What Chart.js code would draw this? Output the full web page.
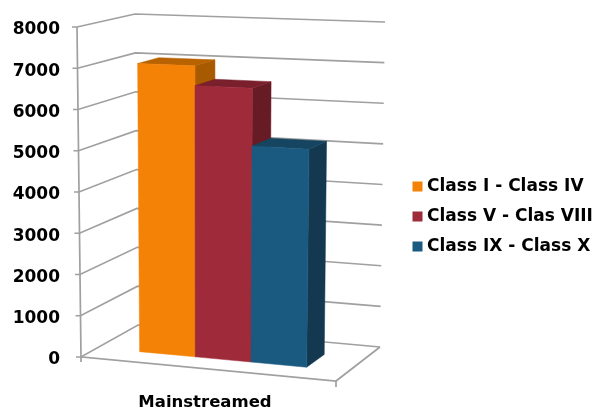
<!DOCTYPE html>
<html>
<head>
<meta charset="utf-8">
<style>
html,body{margin:0;padding:0;background:#fff;}
canvas{display:block;}
</style>
<script src="https://cdn.jsdelivr.net/npm/chart.js@4"></script>
</head>
<body>
<canvas id="chart__bars" width="601" height="409"></canvas>
<script>
// DATA
const categories = ['Mainstreamed'];
const seriesNames = ['Class I - Class IV', 'Class V - Clas VIII', 'Class IX - Class X'];
const classOne = [7050];
const classFive = [6570];
const classNine = [5180];
const seriesValues = [classOne, classFive, classNine];
const yTicks = [0, 1000, 2000, 3000, 4000, 5000, 6000, 7000, 8000];

// front, top and side colours of each series
const frontColors = ['#f38207', '#9e2a3a', '#1b5a80'];
const topColors = ['#b86200', '#7a1f2c', '#154560'];
const sideColors = ['#a85a00', '#671b25', '#133850'];

const gridColor = '#a0a0a0';
const fontName = '"DejaVu Sans", Verdana, sans-serif';

// 3D box of the plot, [x, y] of each corner (f = front, b = back, l/r, t = top, o = bottom)
const box = {
    flo: [81, 357], fro: [336, 381], blo: [138, 325], bro: [380, 347],
    flt: [77, 27], frt: [341, 36], blt: [135, 14], brt: [385, 22]
};
const barDepthFront = 0.29;
const barDepthBack = 0.67;

function mix(a, b, k) {
    return [a[0] + (b[0] - a[0]) * k, a[1] + (b[1] - a[1]) * k];
}
// t along the width, f up the value axis, d into the depth, all 0..1
function project(t, f, d) {
    const front = mix(mix(box.flo, box.fro, t), mix(box.flt, box.frt, t), f);
    const back = mix(mix(box.blo, box.bro, t), mix(box.blt, box.brt, t), f);
    return mix(front, back, d);
}
function line(ctx, pts, color, width) {
    ctx.beginPath();
    pts.forEach((p, i) => i ? ctx.lineTo(p[0], p[1]) : ctx.moveTo(p[0], p[1]));
    ctx.strokeStyle = color;
    ctx.lineWidth = width;
    ctx.stroke();
}
function face(ctx, pts, color) {
    ctx.beginPath();
    pts.forEach((p, i) => i ? ctx.lineTo(p[0], p[1]) : ctx.moveTo(p[0], p[1]));
    ctx.closePath();
    ctx.fillStyle = color;
    ctx.fill();
    ctx.strokeStyle = color;
    ctx.lineWidth = 0.5;
    ctx.stroke();
}

const bars3d = {
    id: 'bars3d',
    beforeInit(chart) {
        // room for the 3D box between the plot and the legend
        const fit = chart.legend.fit;
        chart.legend.fit = function () {
            fit.call(chart.legend);
            this.width = 265;
        };
    },
    afterLayout(chart) {
        chart.legend.left = 403.5;
        chart.legend.top -= 3;
        chart.legend.bottom -= 3;
    },
    beforeDatasetsDraw(chart) {
        const ctx = chart.ctx;
        const area = chart.chartArea;
        const yScale = chart.scales.y;
        const frac = (v) => (area.bottom - yScale.getPixelForValue(v)) / (area.bottom - area.top);

        // walls and floor
        ctx.save();
        yTicks.forEach((v) => {
            const f = frac(v);
            const a = project(0, f, 0);
            line(ctx, [[a[0] - 5, a[1]], a, project(0, f, 1), project(1, f, 1)], gridColor, 1.7);
        });
        line(ctx, [project(0, 1, 0), project(0, 0, 0)], gridColor, 1.7);
        const fl = project(0, 0, 0);
        const fr = project(1, 0, 0);
        line(ctx, [[fl[0], fl[1] + 5], fl, fr, project(1, 0, 1)], gridColor, 1.7);
        line(ctx, [fr, [fr[0], fr[1] + 6]], gridColor, 1.7);

        // bars, left to right so that each one covers the side of the last
        chart.data.datasets.forEach((ds, i) => {
            chart.getDatasetMeta(i).data.forEach((bar, j) => {
                const t0 = (bar.x - bar.width / 2 - area.left) / area.width;
                const t1 = (bar.x + bar.width / 2 - area.left) / area.width;
                const f = frac(ds.data[j]);
                const d0 = barDepthFront;
                const d1 = barDepthBack;
                face(ctx, [project(t1, 0, d0), project(t1, 0, d1), project(t1, f, d1), project(t1, f, d0)], sideColors[i]);
                face(ctx, [project(t0, f, d0), project(t0, f, d1), project(t1, f, d1), project(t1, f, d0)], topColors[i]);
                face(ctx, [project(t0, 0, d0), project(t1, 0, d0), project(t1, f, d0), project(t0, f, d0)], frontColors[i]);
            });
        });
        ctx.restore();
        return false;
    }
};

const barChart = new Chart(document.getElementById('chart__bars').getContext('2d'), {
    type: 'bar',
    data: {
        labels: categories,
        datasets: seriesNames.map((name, i) => ({
            label: name,
            data: seriesValues[i],
            backgroundColor: frontColors[i],
            borderColor: frontColors[i],
            borderWidth: 8,
            categoryPercentage: 0.665,
            barPercentage: 1
        }))
    },
    options: {
        responsive: false,
        animation: false,
        layout: { padding: { top: 30, left: 0, right: 0, bottom: 0 } },
        plugins: {
            tooltip: { enabled: false },
            legend: {
                position: 'right',
                labels: {
                    boxWidth: 2,
                    boxHeight: 2,
                    padding: 13,
                    color: '#000',
                    font: { family: fontName, size: 17, weight: 'bold' }
                }
            }
        },
        scales: {
            x: {
                grid: { display: false },
                border: { display: false },
                afterFit(scale) { scale.height = 49; },
                ticks: {
                    padding: 25,
                    labelOffset: -3.5,
                    maxRotation: 0,
                    color: '#000',
                    font: { family: fontName, size: 16.5, weight: 'bold' }
                }
            },
            y: {
                min: 0,
                max: 8000,
                grid: { display: false },
                border: { display: false },
                afterFit(scale) { scale.width = 81; },
                afterBuildTicks(scale) { scale.ticks = yTicks.map((v) => ({ value: v })); },
                ticks: {
                    padding: 13,
                    color: '#000',
                    callback: (v) => String(v),
                    font: { family: fontName, size: 17, weight: 'bold' }
                }
            }
        }
    },
    plugins: [bars3d]
});
</script>
</body>
</html>
